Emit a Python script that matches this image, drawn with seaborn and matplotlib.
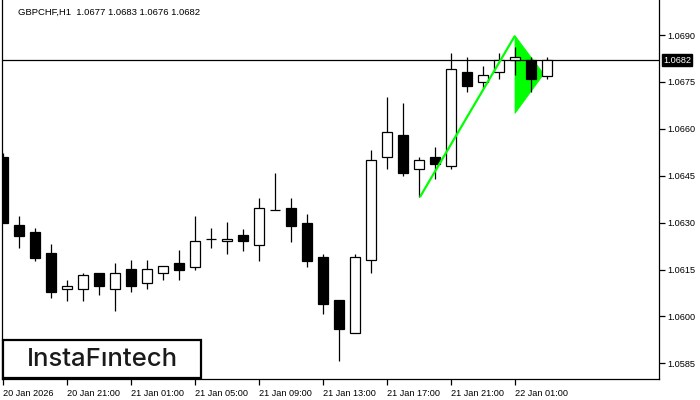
import pandas as pd
import matplotlib
matplotlib.use("Agg")
import matplotlib.pyplot as plt
import matplotlib.transforms as mtransforms
from matplotlib.patches import Rectangle, Polygon
import seaborn as sns

# hourly candles, first one is 20 Jan 17:00
opens = [1.06510, 1.06292, 1.06269, 1.06202, 1.06089, 1.06089, 1.06140, 1.06088, 1.06151, 1.06108,
         1.06140, 1.06170, 1.06158, 1.06249, 1.06240, 1.06259, 1.06230, 1.06339, 1.06348, 1.06300,
         1.06189, 1.06052, 1.05947, 1.06179, 1.06509, 1.06580, 1.06470, 1.06509, 1.06480, 1.06782,
         1.06749, 1.06781, 1.06819, 1.06819, 1.06770]
highs = [1.06522, 1.06321, 1.06282, 1.06231, 1.06118, 1.06140, 1.06140, 1.06170, 1.06180, 1.06180,
         1.06160, 1.06212, 1.06321, 1.06282, 1.06301, 1.06281, 1.06380, 1.06460, 1.06380, 1.06329,
         1.06201, 1.06052, 1.06201, 1.06532, 1.06702, 1.06683, 1.06510, 1.06541, 1.06842, 1.06830,
         1.06801, 1.06842, 1.06862, 1.06829, 1.06830]
lows = [1.06299, 1.06219, 1.06178, 1.06059, 1.06050, 1.06050, 1.06069, 1.06017, 1.06078, 1.06088,
        1.06118, 1.06118, 1.06149, 1.06219, 1.06200, 1.06210, 1.06178, 1.06339, 1.06238, 1.06158,
        1.06008, 1.05857, 1.05947, 1.06139, 1.06470, 1.06450, 1.06382, 1.06441, 1.06470, 1.06719,
        1.06729, 1.06759, 1.06771, 1.06719, 1.06760]
closes = [1.06299, 1.06258, 1.06187, 1.06078, 1.06099, 1.06131, 1.06098, 1.06140, 1.06098, 1.06151,
          1.06160, 1.06149, 1.06241, 1.06249, 1.06249, 1.06240, 1.06348, 1.06339, 1.06290, 1.06178,
          1.06040, 1.05960, 1.06189, 1.06500, 1.06589, 1.06459, 1.06499, 1.06488, 1.06790, 1.06738,
          1.06771, 1.06819, 1.06829, 1.06760, 1.06820]

time_labels = ["20 Jan 2026", "20 Jan 21:00", "21 Jan 01:00", "21 Jan 05:00", "21 Jan 09:00",
               "21 Jan 13:00", "21 Jan 17:00", "21 Jan 21:00", "22 Jan 01:00"]
price_ticks = [1.0585, 1.0600, 1.0615, 1.0630, 1.0645, 1.0660, 1.0675, 1.0690]

# bullish pennant: flagpole and flag
pole_x = [26.06, 32.0]
pole_y = [1.06382, 1.06898]
flag_x = [32.0, 33.8, 32.0]
flag_y = [1.06898, 1.06775, 1.06649]

last_price = 1.0682
title_text = "GBPCHF,H1  1.0677 1.0683 1.0676 1.0682"

df = pd.DataFrame({"open": opens, "high": highs, "low": lows, "close": closes})
df["bar"] = range(len(df))
df["up"] = df["close"] >= df["open"]

sns.set_theme(style="white")
plt.rcParams["font.family"] = ["Liberation Sans", "DejaVu Sans"]

fig = plt.figure(figsize=(7, 4), dpi=100)
ax = fig.add_axes([2 / 700, 21 / 400, 657 / 700, 379 / 400])
ax.set_facecolor("white")

# flag under the candles
ax.add_patch(Polygon(list(zip(flag_x, flag_y)), closed=True, facecolor="#00ff00",
                     edgecolor="#00ff00", lw=0.5, zorder=1))
ax.axhline(last_price, color="black", lw=0.9, zorder=1.5)

ax.vlines(df["bar"], df["low"], df["high"], color="black", lw=0.9, zorder=2)
body_lo = df[["open", "close"]].min(axis=1)
body_h = (df["close"] - df["open"]).abs()
ax.bar(df["bar"], body_h, bottom=body_lo, width=0.64,
       color=["white" if u else "black" for u in df["up"]],
       edgecolor="black", linewidth=0.9, zorder=3)

ax.plot(pole_x, pole_y, color="#00ff00", lw=1.6, zorder=4, solid_capstyle="butt")

ax.set_xlim(-0.06, 41.0)
ax.set_ylim(1.05800, 1.07012)

ax.set_xticks(range(0, 33, 4))
ax.set_xticklabels(time_labels, ha="left", fontsize=6.6)
ax.yaxis.tick_right()
ax.set_yticks(price_ticks)
ax.set_yticklabels([f"{p:.4f}" for p in price_ticks], fontsize=6.6)
ax.tick_params(axis="both", direction="out", length=4, width=0.9, color="black",
               labelcolor="black", pad=2)
ax.tick_params(axis="x", pad=3)
ax.tick_params(axis="both", which="both", bottom=True, right=True, left=False, top=False)

for side in ["left", "right", "bottom"]:
    ax.spines[side].set_visible(True)
    ax.spines[side].set_color("black")
    ax.spines[side].set_linewidth(0.9)
ax.spines["top"].set_visible(False)

# current price tag on the right axis
trans = mtransforms.blended_transform_factory(ax.transAxes, ax.transData)
ax.text(1 + 4 / 657, last_price, f"{last_price:.4f}", transform=trans, ha="left", va="center",
        fontsize=6.6, color="white", clip_on=False, zorder=6,
        bbox=dict(boxstyle="square,pad=0.15", facecolor="black", edgecolor="black"))

fig.text(18 / 700, 1 - 12 / 400, title_text, fontsize=6.8, color="black", va="center", ha="left")

# logo box
fig.patches.append(Rectangle((3 / 700, 22 / 400), 198 / 700, 38 / 400, transform=fig.transFigure,
                             facecolor="white", edgecolor="black", lw=1.6, zorder=10))
fig.text(102 / 700, 1 - 360 / 400, "InstaF\u0131ntech", fontsize=18.5, color="#1a1a1a",
         family=["Inter", "DejaVu Sans"], weight="medium", ha="center", va="center", zorder=11)

fig.savefig("out.png", dpi=100, facecolor="white")
